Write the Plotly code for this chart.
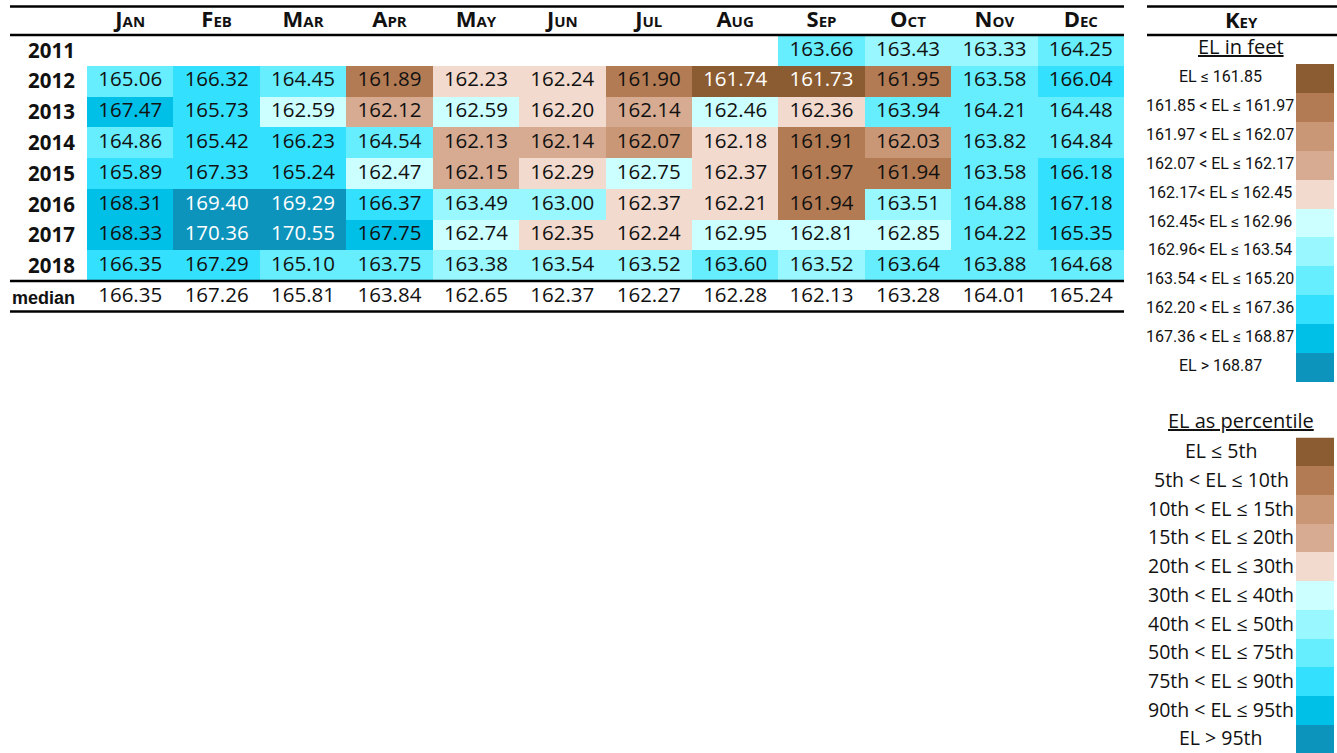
import plotly.graph_objects as go

# ---------------- data ----------------
months = ["Jan", "Feb", "Mar", "Apr", "May", "Jun", "Jul", "Aug", "Sep", "Oct", "Nov", "Dec"]
years = ["2011", "2012", "2013", "2014", "2015", "2016", "2017", "2018"]

el_2011 = [None, None, None, None, None, None, None, None, 163.66, 163.43, 163.33, 164.25]
el_2012 = [165.06, 166.32, 164.45, 161.89, 162.23, 162.24, 161.90, 161.74, 161.73, 161.95, 163.58, 166.04]
el_2013 = [167.47, 165.73, 162.59, 162.12, 162.59, 162.20, 162.14, 162.46, 162.36, 163.94, 164.21, 164.48]
el_2014 = [164.86, 165.42, 166.23, 164.54, 162.13, 162.14, 162.07, 162.18, 161.91, 162.03, 163.82, 164.84]
el_2015 = [165.89, 167.33, 165.24, 162.47, 162.15, 162.29, 162.75, 162.37, 161.97, 161.94, 163.58, 166.18]
el_2016 = [168.31, 169.40, 169.29, 166.37, 163.49, 163.00, 162.37, 162.21, 161.94, 163.51, 164.88, 167.18]
el_2017 = [168.33, 170.36, 170.55, 167.75, 162.74, 162.35, 162.24, 162.95, 162.81, 162.85, 164.22, 165.35]
el_2018 = [166.35, 167.29, 165.10, 163.75, 163.38, 163.54, 163.52, 163.60, 163.52, 163.64, 163.88, 164.68]
medians = [166.35, 167.26, 165.81, 163.84, 162.65, 162.37, 162.27, 162.28, 162.13, 163.28, 164.01, 165.24]

thresholds = [161.85, 161.97, 162.07, 162.17, 162.45, 162.96, 163.54, 165.20, 167.36, 168.87]
bin_colors = ["#8B5C31", "#B37B53", "#C99676", "#D6AB92", "#F2DACE", "#CCFFFF",
              "#99F7FF", "#66EEFF", "#33E1FF", "#00C0E8", "#0C94BC"]
feet_labels = ["EL ≤ 161.85", "161.85 < EL ≤ 161.97", "161.97 < EL ≤ 162.07",
               "162.07 < EL ≤ 162.17", "162.17< EL ≤ 162.45", "162.45< EL ≤ 162.96",
               "162.96< EL ≤ 163.54", "163.54 < EL ≤ 165.20", "162.20 < EL ≤ 167.36",
               "167.36 < EL ≤ 168.87", "EL > 168.87"]
pct_labels = ["EL ≤ 5th", "5th < EL ≤ 10th", "10th < EL ≤ 15th", "15th < EL ≤ 20th",
              "20th < EL ≤ 30th", "30th < EL ≤ 40th", "40th < EL ≤ 50th",
              "50th < EL ≤ 75th", "75th < EL ≤ 90th", "90th < EL ≤ 95th", "EL > 95th"]

rows = [el_2011, el_2012, el_2013, el_2014, el_2015, el_2016, el_2017, el_2018]

# ---------------- helpers ----------------
W, H = 1337, 753
def px(x):
    return x / W
def py(y):
    return 1 - y / H

def bin_of(v):
    return sum(1 for t in thresholds if t < v)

n = len(bin_colors)
colorscale = []
for i, c in enumerate(bin_colors):
    colorscale.append([i / n, c])
    colorscale.append([(i + 1) / n, c])

z = [[(bin_of(v) if v is not None else None) for v in r] for r in rows]

NUM_FONT = "Open Sans, Noto Sans, sans-serif"
COND_FONT = "Roboto, Liberation Sans, sans-serif"

fig = go.Figure()

# main heatmap
fig.add_trace(go.Heatmap(
    x=months, y=years, z=z, colorscale=colorscale, zmin=-0.5, zmax=n - 0.5,
    showscale=False, hoverinfo="skip", xaxis="x", yaxis="y"))

# cell texts
tx, ty, tt, tc = [], [], [], []
for yr, r in zip(years, rows):
    for m, v in zip(months, r):
        if v is None:
            continue
        tx.append(m); ty.append(yr); tt.append(f"{v:.2f}")
        b = bin_of(v)
        tc.append("#ffffff" if b in (0, n - 1) else "#111111")
for m, v in zip(months, medians):
    tx.append(m); ty.append("median"); tt.append(f"{v:.2f}"); tc.append("#111111")

fig.add_trace(go.Scatter(
    x=tx, y=ty, text=tt, mode="text", hoverinfo="skip", showlegend=False,
    textfont=dict(family=NUM_FONT, size=20.5, color=tc), xaxis="x", yaxis="y"))

# key heatmaps
key_idx = list(range(n))
fig.add_trace(go.Heatmap(
    x=["k"], y=feet_labels, z=[[i] for i in key_idx], colorscale=colorscale,
    zmin=-0.5, zmax=n - 0.5, showscale=False, hoverinfo="skip", xaxis="x2", yaxis="y2"))
fig.add_trace(go.Heatmap(
    x=["k"], y=pct_labels, z=[[i] for i in key_idx], colorscale=colorscale,
    zmin=-0.5, zmax=n - 0.5, showscale=False, hoverinfo="skip", xaxis="x3", yaxis="y3"))

ylabels = years + ["median"]
ytext = [f"<b>{y}</b>" for y in years] + [
    "<b><span style='font-family:Liberation Sans, Arial, sans-serif;font-size:18px'>median</span></b>"]

row_h = 30.8
pct_row = 28.7
pct_top = 437.5
fig.update_layout(
    width=W, height=H, margin=dict(l=0, r=0, t=0, b=0),
    paper_bgcolor="white", plot_bgcolor="white", showlegend=False,
    xaxis=dict(domain=[px(87), px(1124)], side="top", type="category",
               categoryorder="array", categoryarray=months, range=[-0.5, 11.5],
               tickfont=dict(family=NUM_FONT, size=22, weight="bold", variant="small-caps", color="#111"),
               showgrid=False, zeroline=False, showline=False, ticks="",
               ticklabelstandoff=3, anchor="y"),
    yaxis=dict(domain=[py(35 + 9 * row_h), py(35)], type="category",
               categoryorder="array", categoryarray=ylabels,
               tickvals=ylabels, ticktext=ytext,
               range=[8.5, -0.5],
               tickfont=dict(family=NUM_FONT, size=20.5, color="#111"),
               showgrid=False, zeroline=False, showline=False, ticks="",
               ticklabelstandoff=11, anchor="x"),
    xaxis2=dict(domain=[px(1296), px(1334)], visible=False, anchor="y2", range=[-0.5, 0.5]),
    yaxis2=dict(domain=[py(382), py(64)], type="category", visible=False,
                range=[n - 0.5, -0.5], anchor="x2"),
    xaxis3=dict(domain=[px(1296), px(1334)], visible=False, anchor="y3", range=[-0.5, 0.5]),
    yaxis3=dict(domain=[0, py(pct_top)], type="category", visible=False,
                range=[-0.5 + (H - pct_top) / pct_row, -0.5], anchor="x3"),
)

# decorative rules
line = dict(color="black", width=2.5)
shapes = []
for (x0, x1, yy) in [(10, 1124, 6.5), (10, 1124, 35), (10, 1124, 281), (10, 1124, 311.5),
                     (1147, 1337, 6.5), (1147, 1337, 35)]:
    shapes.append(dict(type="line", xref="paper", yref="paper",
                       x0=px(x0), x1=px(x1), y0=py(yy), y1=py(yy), line=line))
fig.update_layout(shapes=shapes)

ann = []
ann.append(dict(xref="paper", yref="paper", x=px(1241), y=py(19), text="<b>Key</b>",
                showarrow=False, xanchor="center", yanchor="middle",
                font=dict(family=NUM_FONT, size=22, variant="small-caps", color="#111")))
ann.append(dict(xref="paper", yref="paper", x=px(1241), y=py(47), text="<u>EL in feet</u>",
                showarrow=False, xanchor="center", yanchor="middle",
                font=dict(family=NUM_FONT, size=20, color="#111")))
ann.append(dict(xref="paper", yref="paper", x=px(1241), y=py(421), text="<u>EL as percentile</u>",
                showarrow=False, xanchor="center", yanchor="middle",
                font=dict(family=NUM_FONT, size=20, color="#111")))
for lab in feet_labels:
    ann.append(dict(xref="paper", yref="y2", x=px(1220), y=lab, text=lab, showarrow=False,
                    xanchor="center", yanchor="middle", yshift=2,
                    font=dict(family=COND_FONT, size=16, color="#111")))
for lab in pct_labels:
    ann.append(dict(xref="paper", yref="y3", x=px(1221), y=lab, text=lab, showarrow=False,
                    xanchor="center", yanchor="middle", yshift=1,
                    font=dict(family=NUM_FONT, size=19.5, color="#111")))
fig.update_layout(annotations=ann)

fig.write_html("out.html", config={"displayModeBar": False},
               post_script="document.body.style.margin='0';document.body.style.overflow='hidden';")
